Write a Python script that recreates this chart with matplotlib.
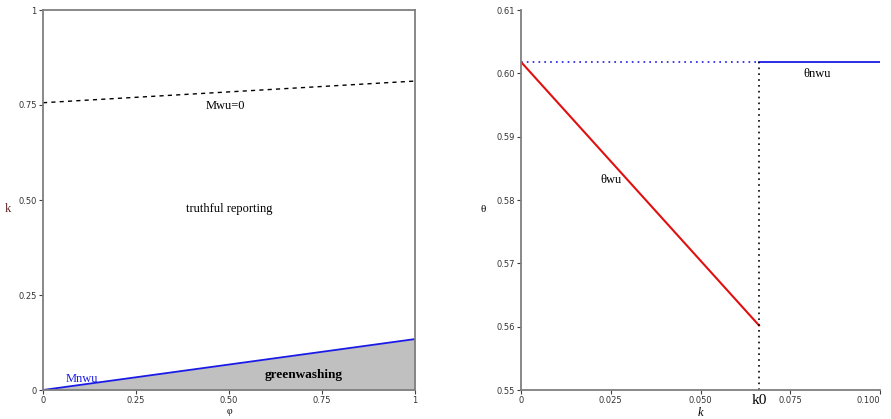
import matplotlib.pyplot as plt

# left panel: boundaries in (phi, k) space
phi = [0.0, 1.0]
k_mwu = [0.756, 0.813]      # Mwu = 0
k_mnwu = [0.0, 0.134]       # Mnwu boundary
phi_ticks = [0, 0.25, 0.5, 0.75, 1]
phi_labels = ["0", "0.25", "0.50", "0.75", "1"]

# right panel: theta as function of k
k0 = 0.0663
k_wu = [0.0, k0]
theta_wu = [0.6018, 0.5602]
k_nwu = [k0, 0.1]
theta_nwu = [0.6018, 0.6018]
k_ticks = [0, 0.025, 0.05, 0.075, 0.1]
k_labels = ["0", "0.025", "0.050", "0.075", "0.100"]
theta_ticks = [0.55, 0.56, 0.57, 0.58, 0.59, 0.60, 0.61]

serif = "Liberation Serif"
spine_col = "#7f7f7f"
tick_kw = dict(labelsize=6, length=3, width=0.8, color="#404040", labelcolor="#333333", pad=1.5)

fig = plt.figure(figsize=(8.91, 4.19), dpi=100)
ax1 = fig.add_axes([43 / 891, 29 / 419, 372 / 891, 380 / 419])
ax2 = fig.add_axes([521 / 891, 29 / 419, 359 / 891, 380 / 419])

# ---- left panel ----
ax1.fill_between(phi, 0, k_mnwu, color="#c0c0c0", lw=0)
ax1.plot(phi, k_mnwu, color="#1a1ae6", lw=1.3)
ax1.plot(phi, k_mwu, color="black", lw=1.0, ls=(0, (3, 3)))
ax1.set_xlim(0, 1)
ax1.set_ylim(0, 1)
ax1.set_xticks(phi_ticks, phi_labels)
ax1.set_yticks(phi_ticks, phi_labels)
ax1.tick_params(**tick_kw)
for s in ax1.spines.values():
    s.set_color(spine_col)
    s.set_linewidth(1.3)
ax1.text(0.49, 0.748, "Mwu=0", ha="center", va="center", fontsize=9, family=serif)
ax1.text(0.50, 0.476, "truthful reporting", ha="center", va="center", fontsize=9, family=serif)
ax1.text(0.70, 0.04, "greenwashing", ha="center", va="center", fontsize=9.5,
         family=serif, fontweight="bold")
ax1.text(0.105, 0.03, "Mnwu", ha="center", va="center", fontsize=9, family=serif,
         color="#1a1ae6")
ax1.set_xlabel("φ", fontsize=7, family=serif, labelpad=1)
ax1.set_ylabel("k", fontsize=9, family=serif, rotation=0, va="center", color="#5a2020")
ax1.yaxis.set_label_coords(-0.095, 0.476)

# ---- right panel ----
ax2.plot([0, k0], [theta_nwu[0], theta_nwu[0]], color="#1a1ae6", lw=1.2, ls=(0, (1, 2.5)))
ax2.plot(k_nwu, theta_nwu, color="#1a1ae6", lw=1.3)
ax2.plot(k_wu, theta_wu, color="#e01010", lw=1.5)
ax2.plot([k0, k0], [0.55, theta_nwu[0]], color="black", lw=1.2, ls=(0, (1, 2.5)))
ax2.set_xlim(0, 0.1)
ax2.set_ylim(0.55, 0.61)
ax2.set_xticks(k_ticks, k_labels)
ax2.set_yticks(theta_ticks, [f"{t:.2f}" for t in theta_ticks])
ax2.tick_params(**tick_kw)
ax2.get_xticklabels()[-1].set_horizontalalignment("right")
ax2.spines["top"].set_visible(False)
ax2.spines["right"].set_visible(False)
for s in ("left", "bottom"):
    ax2.spines[s].set_color(spine_col)
    ax2.spines[s].set_linewidth(1.3)
ax2.text(0.0825, 0.5999, "θnwu", ha="center", va="center", fontsize=9, family=serif)
ax2.text(0.025, 0.5832, "θwu", ha="center", va="center", fontsize=9, family=serif)
ax2.text(k0, 0.5493, "k0", ha="center", va="top", fontsize=11, family=serif)
ax2.set_xlabel("k", fontsize=9, family=serif, style="italic", labelpad=1)
ax2.set_ylabel("θ", fontsize=8, family=serif, rotation=0, va="center")
ax2.yaxis.set_label_coords(-0.105, 0.476)

fig.savefig("out.png", dpi=100)
